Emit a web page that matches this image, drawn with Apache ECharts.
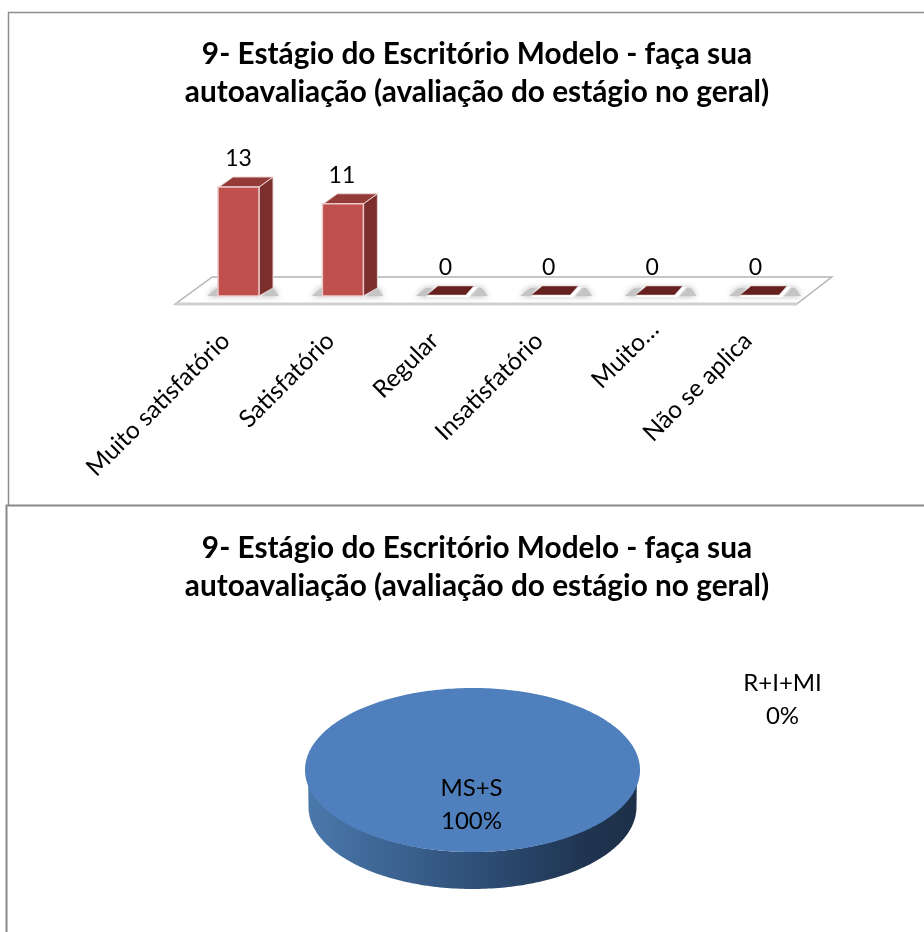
<!DOCTYPE html>
<html>
<head>
<meta charset="utf-8">
<style>
  html, body { margin: 0; height: 100%; background: #fff; }
  #chart { width: 924px; height: 932px; }
</style>
<script src="https://cdn.jsdelivr.net/npm/echarts@6/dist/echarts.min.js"></script>
</head>
<body>
<div id="chart"></div>
<script>
  const titleText = '9- Estágio do Escritório Modelo - faça sua\nautoavaliação (avaliação do estágio no geral)'
  const categories = ['Muito satisfatório', 'Satisfatório', 'Regular', 'Insatisfatório', 'Muito…', 'Não se aplica']
  const barValues = [13, 11, 0, 0, 0, 0]
  const pieNames = ['MS+S', 'R+I+MI']
  const pieValues = [100, 0]

  const font = 'Lato, sans-serif'
  const pieTotal = pieValues.reduce((a, b) => a + b, 0)
  const pieBox = {cx: 472.5, cy: 770, rx: 167.5, ry: 82, depth: 37}
  const pieLabelOffset = [[-1, 35], [310, -70]]

  const mChart = echarts.init(document.getElementById('chart'), null, {renderer: 'canvas'})

  function renderFloor(params, api) {
    const g = params.coordSys
    const y0 = api.coord([0, 0])[1]
    const pts = [
      [g.x - 11, y0 + 8],
      [g.x + g.width - 16, y0 + 8],
      [g.x + g.width + 19, y0 - 19],
      [g.x + 26, y0 - 19]
    ]
    return {
      type: 'group',
      children: [
        {type: 'polygon', shape: {points: pts}, style: {fill: '#fff', stroke: '#b4b4b4', lineWidth: 1.5}},
        {type: 'line', shape: {x1: pts[0][0], y1: pts[0][1], x2: pts[1][0], y2: pts[1][1]},
          style: {stroke: '#cfcfcf', lineWidth: 3}}
      ]
    }
  }

  function renderBar(params, api) {
    const i = api.value(0)
    const p = api.coord([i, api.value(1)])
    const base = api.coord([i, 0])[1]
    const w = 41, dx = 14, dy = 10
    const l = p[0] - w / 2, r = p[0] + w / 2, t = p[1]
    const children = [
      // soft shadow either side of the bar, with a white halo under it
      {type: 'polygon', shape: {points: [[l - 11, base], [r + 20, base], [r + 14, base - 8], [l - 1, base - 8]]},
        style: {fill: '#c4c4c4', shadowBlur: 6, shadowColor: '#b0b0b0'}},
      {type: 'polygon', shape: {points: [[l, base + 1], [r + 1, base + 1], [r + 10, base - 9], [l + 8, base - 9]]},
        style: {fill: '#fff', shadowBlur: 3, shadowColor: '#fff'}}
    ]
    if (api.value(1) > 0) {
      children.push(
        {type: 'polygon', shape: {points: [[r, t], [r + dx, t - dy], [r + dx, base - 8], [r, base]]},
          style: {fill: '#7b2f2d', stroke: '#e9d5d4', lineWidth: 1}},
        {type: 'polygon', shape: {points: [[l + 1, t], [r, t], [r + dx, t - dy], [l + dx + 1, t - dy]]},
          style: {fill: '#943b39', stroke: '#e9d5d4', lineWidth: 1}},
        {type: 'rect', shape: {x: l, y: t, width: w, height: base - t},
          style: {fill: '#c0504d', stroke: '#ecc9c8', lineWidth: 1.5}}
      )
    } else {
      children.push({type: 'polygon', shape: {points: [[l, base - 1], [l + 39, base - 1], [l + 47, base - 10], [l + 11, base - 10]]},
        style: {fill: '#66211f', stroke: '#e5d3d2', lineWidth: 0.5}})
    }
    children.push({
      type: 'text',
      style: {
        text: String(api.value(1)), x: p[0] - i, y: t - 28,
        align: 'center', verticalAlign: 'middle', font: '23px ' + font, fill: '#000'
      }
    })
    return {type: 'group', children}
  }

  function arcPoints(cx, cy, rx, ry, a0, a1) {
    const pts = []
    const n = Math.max(2, Math.ceil(Math.abs(a1 - a0) / 0.02))
    for (let k = 0; k <= n; k++) {
      const a = a0 + (a1 - a0) * k / n
      pts.push([cx + rx * Math.cos(a), cy + ry * Math.sin(a)])
    }
    return pts
  }

  function renderPieSlice(params, api) {
    const idx = params.dataIndex
    const value = api.value(0)
    let before = 0
    for (let k = 0; k < idx; k++) before += pieValues[k]
    const {cx, cy, rx, ry, depth} = pieBox
    const children = []
    const pct = Math.round(value / pieTotal * 100)
    if (value > 0) {
      const a0 = -Math.PI / 2 + before / pieTotal * Math.PI * 2
      const a1 = a0 + value / pieTotal * Math.PI * 2
      const lo = Math.max(a0, 0), hi = Math.min(a1, Math.PI)
      const front = arcPoints(cx, cy, rx - 3, ry, hi, lo)
      const back = arcPoints(cx, cy + depth, rx - 3.5, ry, lo, hi)
      children.push({
        type: 'polygon',
        shape: {points: front.concat(back)},
        style: {
          fill: new echarts.graphic.LinearGradient(0, 0, 1, 0, [
            {offset: 0, color: '#4a78ab'},
            {offset: 0.5, color: '#2f5079'},
            {offset: 0.85, color: '#1f3450'},
            {offset: 1, color: '#1d3048'}
          ])
        }
      })
      const face = value === pieTotal
        ? arcPoints(cx, cy, rx, ry, 0, Math.PI * 2)
        : [[cx, cy]].concat(arcPoints(cx, cy, rx, ry, a0, a1))
      children.push({type: 'polygon', shape: {points: face}, style: {fill: '#4f7fbc'}})
    }
    const off = pieLabelOffset[idx]
    children.push({
      type: 'text',
      style: {
        text: api.value(1) + '\n' + pct + '%',
        x: cx + off[0], y: cy + off[1],
        align: 'center', verticalAlign: 'middle',
        font: '24px ' + font, lineHeight: 33, fill: '#000'
      }
    })
    return {type: 'group', children}
  }

  const option = {
    animation: false,
    backgroundColor: '#fff',
    title: [0, 1].map(i => ({
      text: titleText,
      left: 472,
      top: i === 0 ? 31 : 525,
      textAlign: 'center',
      textStyle: {fontFamily: font, fontSize: 29.8, fontWeight: 'bold', lineHeight: 37.5, color: '#000'}
    })),
    graphic: [
      {type: 'polyline', silent: true, shape: {points: [[8.5, 505], [8.5, 12.5], [924, 12.5]]},
        style: {stroke: '#8e8e8e', lineWidth: 1.5, fill: null}},
      {type: 'polyline', silent: true, shape: {points: [[6.5, 932], [6.5, 505.5], [924, 505.5]]},
        style: {stroke: '#8a8a8a', lineWidth: 2, fill: null}}
    ],
    grid: {left: 186.3, top: 178.6, width: 626.4, height: 117.4},
    xAxis: {
      type: 'category',
      // the truncated label sits closer to the axis than the others
      data: categories.map(c => c.endsWith('…') ? {value: c, textStyle: {padding: [0, 2, 0, 0]}} : c),
      axisLine: {show: false},
      axisTick: {show: false},
      axisLabel: {
        interval: 0, rotate: 45, margin: 28, padding: [0, 18, 0, 0],
        fontFamily: font, fontSize: 24.5, color: '#000'
      }
    },
    yAxis: {type: 'value', min: 0, max: 14, show: false},
    series: [
      {
        type: 'custom', name: 'floor', silent: true, z: 1,
        data: [[0, 0]],
        encode: {x: 0, y: 1},
        renderItem: renderFloor
      },
      {
        type: 'custom', name: 'bars', z: 2,
        data: barValues.map((v, i) => [i, v]),
        encode: {x: 0, y: 1},
        renderItem: renderBar
      },
      {
        type: 'custom', name: 'pie', coordinateSystem: 'none', z: 2,
        data: pieValues.map((v, i) => [v, pieNames[i]]),
        dimensions: [{name: 'value', type: 'number'}, {name: 'name', type: 'ordinal'}],
        renderItem: renderPieSlice
      }
    ]
  }

  mChart.setOption(option)
  window.addEventListener('resize', mChart.resize)
</script>
</body>
</html>
